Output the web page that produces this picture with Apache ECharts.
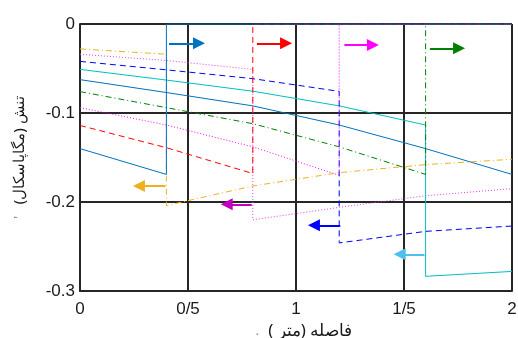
<!DOCTYPE html>
<html>
<head>
<meta charset="utf-8">
<script src="https://cdn.jsdelivr.net/npm/echarts@6/dist/echarts.min.js"></script>
<style>
  html, body { margin: 0; padding: 0; background: #fff; }
  #chart { width: 518px; height: 338px; }
</style>
</head>
<body>
<div id="chart"></div>
<script>
  // tick labels
  let xTicks = [0, 0.5, 1, 1.5, 2]
  let xTickLabels = ['0', '0/5', '1', '1/5', '2']
  let yTicks = [0, -0.1, -0.2, -0.3]
  let yTickLabels = ['0', '-0.1', '-0.2', '-0.3']

  // series, [x (m), stress (MPa)]
  let blueShort = [[0, -0.140], [0.4, -0.169], [0.4, 0], [2, 0]]
  let yellowDashDot = [[0, -0.028], [0.4, -0.034], [0.4, -0.204], [0.8, -0.182], [1.2, -0.167], [1.6, -0.158], [2, -0.152]]
  let redDashed = [[0, -0.114], [0.4, -0.139], [0.8, -0.168], [0.8, 0], [2, 0]]
  let purpleDotted = [[0, -0.034], [0.4, -0.041], [0.8, -0.051], [0.8, -0.220], [1.2, -0.206], [1.6, -0.193], [2, -0.185]]
  let magentaDotted = [[0, -0.094], [0.4, -0.1135], [0.8, -0.138], [1.2, -0.170], [1.2, 0], [2, 0]]
  let blueDashed = [[0, -0.042], [0.4, -0.0515], [0.8, -0.0614], [1.2, -0.0757], [1.2, -0.246], [1.6, -0.233], [2, -0.227]]
  let greenDashDot = [[0, -0.076], [0.4, -0.094], [0.8, -0.112], [1.2, -0.138], [1.6, -0.169], [1.6, 0], [2, 0]]
  let cyanSolid = [[0, -0.051], [0.4, -0.063], [0.8, -0.0755], [1.2, -0.092], [1.6, -0.1135], [1.6, -0.2835], [2, -0.278]]
  let blueLong = [[0, -0.0625], [0.4, -0.077], [0.8, -0.092], [1.2, -0.1135], [1.6, -0.140], [2, -0.169]]

  // arrows: from -> to, in data units
  let arrowFrom = [[0.412, -0.0217], [0.819, -0.0217], [1.224, -0.0236], [1.620, -0.0273], [0.396, -0.182], [0.795, -0.2026], [1.205, -0.2262], [1.595, -0.2588]]
  let arrowTo = [[0.551, -0.0217], [0.954, -0.0217], [1.356, -0.0236], [1.755, -0.0273], [0.273, -0.182], [0.679, -0.2026], [1.083, -0.2262], [1.480, -0.2588]]
  let arrowColors = ['#0072BD', '#FF0000', '#FF00FF', '#008000', '#EDB120', '#BF00BF', '#0000FF', '#4DBEEE']

  let chart = echarts.init(document.getElementById('chart'))

  function lineSeries(data, color, type) {
    return {
      type: 'line',
      data: data,
      symbol: 'none',
      animation: false,
      lineStyle: { width: 1, color: color, type: type },
      z: 3
    }
  }

  let arrowData = arrowFrom.map(function (p, i) {
    return { coords: [p, arrowTo[i]], lineStyle: { color: arrowColors[i] } }
  })

  function richStyles(size) {
    let s = { fontFamily: 'Noto Sans', fontSize: size, color: '#1a1a1a' }
    return {
      a: Object.assign({}, s), b: Object.assign({}, s), c: Object.assign({}, s),
      e: Object.assign({}, s), s1: Object.assign({}, s), s2: Object.assign({}, s),
      d: { fontSize: 12, color: '#888' }
    }
  }

  chart.setOption({
    animation: false,
    grid: { left: 80, right: 6, top: 24, bottom: 47, containLabel: false, outerBoundsMode: 'none' },
    xAxis: {
      type: 'value',
      min: 0,
      max: 2,
      interval: 0.5,
      // the text run is laid out right-to-left by the canvas, so it is written in that order
      name: '{d|.   }( متر) فاصله',
      nameLocation: 'middle',
      nameGap: 24,
      nameTextStyle: {
        fontFamily: 'Noto Sans', fontSize: 17, color: '#1a1a1a',
        padding: [0, 0, 0, 16],
        rich: richStyles(17)
      },
      axisLine: { show: true, onZero: false, lineStyle: { color: '#262626', width: 2 } },
      axisTick: { show: false },
      axisLabel: {
        margin: 10,
        fontFamily: 'Liberation Sans',
        fontSize: 17,
        color: '#1a1a1a',
        formatter: function (v) { return xTickLabels[xTicks.indexOf(v)] }
      },
      splitLine: { show: true, lineStyle: { color: '#262626', width: 2 } }
    },
    yAxis: {
      type: 'value',
      min: -0.3,
      max: 0,
      interval: 0.1,
      name: '{d|\'}{s1|   }{a|(مگاپاسکال)}{s2| }{c|تنش}',
      nameLocation: 'middle',
      nameGap: 53,
      nameRotate: 90,
      nameTextStyle: {
        fontFamily: 'Noto Sans', fontSize: 15, color: '#1a1a1a',
        rich: richStyles(15)
      },
      axisLine: { show: true, onZero: false, lineStyle: { color: '#262626', width: 2 } },
      axisTick: { show: false },
      axisLabel: {
        margin: 5,
        fontFamily: 'Liberation Sans',
        fontSize: 17,
        color: '#1a1a1a',
        padding: [0, 0, 12, 0],
        formatter: function (v) {
          let i = yTicks.findIndex(function (t) { return Math.abs(t - v) < 1e-9 })
          return yTickLabels[i]
        }
      },
      splitLine: { show: true, lineStyle: { color: '#262626', width: 2 } }
    },
    series: [
      lineSeries(blueLong, '#0072BD', 'solid'),
      lineSeries(cyanSolid, '#00BFBF', 'solid'),
      lineSeries(greenDashDot, '#008000', [6, 3, 1, 3]),
      lineSeries(blueDashed, '#0000FF', [6, 4]),
      lineSeries(magentaDotted, '#FF00FF', [1, 2]),
      lineSeries(purpleDotted, '#E040E0', [1, 2]),
      lineSeries(redDashed, '#FF0000', [6, 4]),
      lineSeries(yellowDashDot, '#EDB120', [6, 3, 1, 3]),
      lineSeries(blueShort, '#0072BD', 'solid'),
      {
        type: 'lines',
        coordinateSystem: 'cartesian2d',
        symbol: ['none', 'triangle'],
        symbolSize: 12,
        lineStyle: { width: 2, opacity: 1 },
        data: arrowData,
        z: 4
      }
    ]
  })
</script>
</body>
</html>
